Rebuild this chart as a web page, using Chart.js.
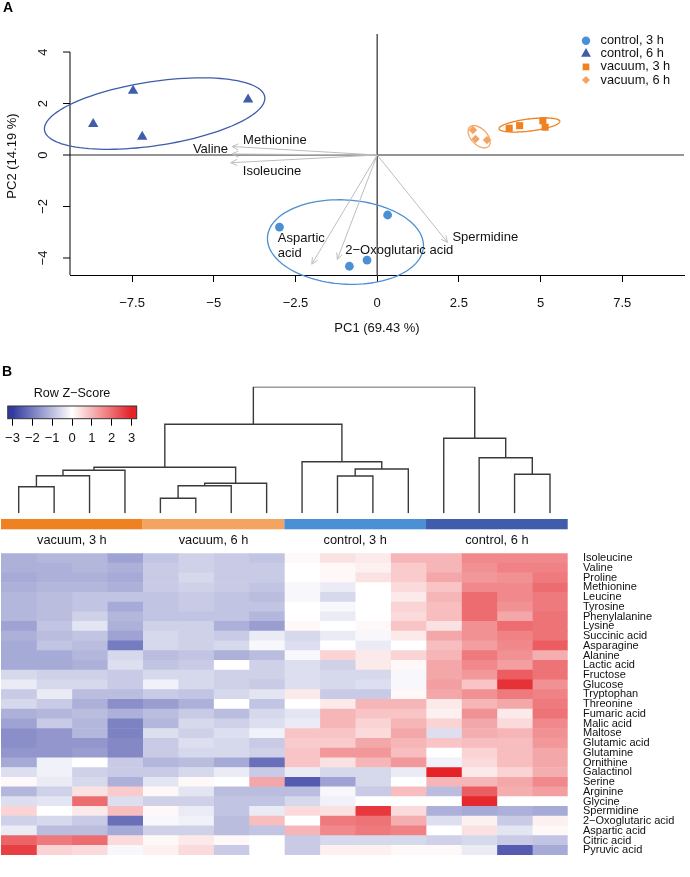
<!DOCTYPE html>
<html><head><meta charset="utf-8">
<script src="https://cdn.jsdelivr.net/npm/chart.js@4.4.1/dist/chart.umd.min.js"></script>
<style>
html,body{margin:0;padding:0;background:#fff;}
#wrap{position:relative;width:690px;height:877px;overflow:hidden;background:#fff;}
canvas{position:absolute;display:block;}
</style></head><body>
<div id="wrap">
<canvas id="pca" width="690" height="340" style="left:0;top:0;width:690px;height:340px"></canvas>
<canvas id="key" width="150" height="90" style="left:0;top:360px;width:150px;height:90px"></canvas>
<canvas id="dendro" width="690" height="135" style="left:0;top:380px;width:690px;height:135px"></canvas>
<canvas id="heat" width="690" height="362" style="left:0;top:515px;width:690px;height:362px"></canvas>
</div>
<script>
// ---------------- DATA: panel A (PCA) ----------------
const groups = ['control, 3 h', 'control, 6 h', 'vacuum, 3 h', 'vacuum, 6 h'];
const pc1Control3h = [-2.99, 0.32, -0.31, -0.85];
const pc2Control3h = [-2.80, -2.33, -4.08, -4.32];
const pc1Control6h = [-8.69, -7.47, -7.19, -3.95];
const pc2Control6h = [1.20, 2.50, 0.71, 2.16];
const pc1Vacuum3h = [4.04, 4.36, 5.07, 5.14];
const pc2Vacuum3h = [1.04, 1.14, 1.33, 1.08];
const pc1Vacuum6h = [2.93, 3.01, 3.36];
const pc2Vacuum6h = [0.97, 0.62, 0.58];
const xTickVals = [-7.5, -5, -2.5, 0, 2.5, 5, 7.5];
const yTickVals = [-4, -2, 0, 2, 4];
// confidence ellipses: centre and two conjugate semi-axes (data units)
const ellipseCX = [-0.97, -6.81, 4.66, 3.12];
const ellipseCY = [-3.38, 1.61, 1.165, 0.71];
const ellipseUX = [2.386, 3.37, 0.93, 0.29];
const ellipseUY = [-0.19, 0.645, 0.144, -0.371];
const ellipseVX = [-0.079, 0.143, 0.021, -0.172];
const ellipseVY = [-1.631, -1.23, -0.233, -0.22];
// loadings (arrows)
const loadingNames = ['Methionine', 'Valine', 'Isoleucine', 'Aspartic\nacid', '2\u2212Oxoglutaric acid', 'Spermidine'];
const loadingPC1 = [-4.44, -4.44, -4.48, -2.00, -1.22, 2.15];
const loadingPC2 = [0.33, 0.04, -0.30, -4.24, -4.05, -3.39];

// ---------------- DATA: panel B (heatmap) ----------------
const metabolites = ['Isoleucine','Valine','Proline','Methionine','Leucine','Tyrosine','Phenylalanine','Lysine',
 'Succinic acid','Asparagine','Alanine','Lactic acid','Fructose','Glucose','Tryptophan','Threonine','Fumaric acid',
 'Malic acid','Maltose','Glutamic acid','Glutamine','Ornithine','Galactinol','Serine','Arginine','Glycine',
 'Spermidine','2\u2212Oxoglutaric acid','Aspartic acid','Citric acid','Pyruvic acid'];
const heatGroups = ['vacuum, 3 h', 'vacuum, 6 h', 'control, 3 h', 'control, 6 h'];
const sampleGroup = [0,0,0,0, 1,1,1,1, 2,2,2,2, 3,3,3,3];
const cellWidth = 1;
const zScores = [
 [-1.2,-1.1,-1.1,-1.4,-0.9,-0.7,-0.8,-0.9, 0.1,0.4,0.3,1.0,1.0,1.6,1.6,1.6],
 [-1.2,-1.2,-1.1,-1.2,-0.8,-0.7,-0.8,-0.8, 0.0,0.1,0.2,0.7,1.0,1.5,1.7,1.7],
 [-1.3,-1.2,-1.2,-1.3,-0.8,-0.6,-0.8,-0.8, 0.0,0.1,0.4,0.7,1.2,1.4,1.5,1.8],
 [-1.2,-1.1,-1.1,-1.2,-0.8,-0.7,-0.8,-0.9,-0.1,-0.3,0.0,0.5,0.8,1.6,1.6,2.0],
 [-1.1,-1.0,-0.9,-0.9,-0.9,-0.8,-0.9,-1.0,-0.1,-0.6,0.0,0.3,1.0,2.0,1.6,1.8],
 [-1.1,-1.0,-0.9,-1.3,-0.9,-0.8,-0.9,-0.9, 0.0,-0.1,0.0,0.6,0.9,2.0,1.5,1.8],
 [-1.1,-1.0,-0.7,-1.1,-0.9,-0.9,-0.9,-1.1, 0.0,-0.3,0.0,0.5,0.9,2.0,1.2,1.9],
 [-1.4,-0.9,-0.4,-1.2,-0.7,-0.7,-1.2,-1.5, 0.1,0.0,0.1,0.8,0.4,1.5,2.0,1.9],
 [-1.2,-1.0,-0.9,-1.4,-0.6,-0.7,-0.8,-0.3,-0.6,-0.3,-0.1,0.3,1.2,1.5,1.7,1.9],
 [-1.3,-0.9,-1.0,-2.0,-0.6,-0.7,-0.6,-0.1,-0.5,0.0,-0.3,0.0,0.9,1.3,1.6,2.2],
 [-1.3,-1.3,-1.1,-0.6,-1.0,-0.9,-1.2,-1.0,-0.1,0.6,0.3,0.6,1.0,1.8,1.5,1.1],
 [-1.3,-1.3,-1.2,-0.5,-0.9,-0.8,0.0,-0.7,-0.5,-0.7,0.3,0.1,1.2,1.6,1.3,1.9],
 [-0.6,-0.7,-0.7,-0.8,-0.6,-0.6,-0.7,-0.7,-0.5,-0.6,-0.6,-0.1,1.2,1.4,2.2,1.9],
 [-0.3,-0.6,-0.6,-0.8,-0.2,-0.6,-0.7,-0.8,-0.5,-0.6,-0.5,-0.1,1.3,0.8,2.8,1.5],
 [-0.8,-0.3,-1.0,-1.0,-0.8,-0.9,-0.6,-0.4, 0.3,-0.8,-0.8,0.1,1.2,1.5,1.8,1.7],
 [-0.6,-0.8,-1.2,-1.7,-1.5,-1.2,0.0,-0.9, 0.0,0.3,1.0,1.0,0.3,1.0,1.2,1.8],
 [-1.2,-1.1,-1.0,-1.2,-1.0,-0.8,-1.0,-0.6,-0.4,1.0,0.8,0.8,0.2,1.5,0.3,1.9],
 [-1.4,-0.8,-1.1,-1.9,-1.1,-0.6,-0.7,-0.5,-0.3,1.0,0.6,1.0,0.6,1.2,0.5,1.6],
 [-1.7,-1.6,-1.1,-1.9,-0.5,-0.7,-0.5,-0.2, 0.8,0.8,0.5,1.2,-0.5,1.1,1.0,1.5],
 [-1.7,-1.6,-1.6,-1.8,-0.8,-0.5,-0.6,-0.8, 0.7,0.7,1.2,1.0,0.8,0.9,0.9,1.4],
 [-1.6,-1.6,-1.5,-1.8,-0.8,-0.6,-0.6,-0.7, 0.8,1.4,1.4,0.9,0.0,0.6,0.9,1.2],
 [-1.3,-0.2,0.0,-0.8,-1.1,-1.0,-1.3,-2.2, 0.8,0.4,1.0,1.4,-0.2,0.5,0.9,1.2],
 [-0.5,-0.2,-0.7,-0.8,-0.8,-0.6,-0.3,-0.8,-0.3,-0.6,-0.6,-0.3,3.0,0.3,0.6,1.1],
 [0.1,-0.3,-0.6,-1.2,-0.4,0.1,0.0,1.2,-2.5,-1.4,-0.6,0.0,1.0,1.0,1.2,1.6],
 [-1.1,-0.7,0.4,0.7,0.1,-0.4,-1.0,-1.0,-1.0,-0.1,-0.8,0.9,-1.0,2.2,1.1,1.3],
 [-0.5,-0.4,2.0,-0.5,-0.7,-0.7,-0.9,-0.9,-0.6,-0.2,0.0,0.0,0.0,2.9,0.0,0.0],
 [0.6,0.0,0.3,0.9,0.1,-0.3,-0.9,-0.3, 0.5,0.4,2.7,0.5,-1.2,-1.3,-1.2,-1.3],
 [-0.7,-0.6,-0.8,-2.2,-0.1,-0.2,-1.0,0.9, 0.0,1.8,1.9,1.1,-0.5,0.2,-0.8,0.2],
 [-0.3,-1.0,-1.0,-1.3,-0.7,-0.7,-1.0,-0.9, 1.0,1.6,1.8,1.7,0.0,0.4,-0.4,0.1],
 [2.1,1.8,2.0,0.5,0.1,0.3,0.1,0.0,-0.8,-0.6,-0.6,-0.6,-0.7,-0.6,-0.8,-0.9],
 [2.6,0.6,0.5,-0.1,0.2,0.5,-0.8,0.0,-0.8,0.2,0.2,0.1,0.1,-0.3,-2.5,-1.3]
];
const keyTicks = [-3, -2, -1, 0, 1, 2, 3];
// dendrogram (columns): nodes 0-15 leaves, node 16+k = merge k
const mergeA = [4, 0, 16, 18, 9, 17, 14, 21, 20, 23, 8, 13, 12, 25, 29];
const mergeB = [5, 1, 6, 7, 10, 2, 15, 3, 11, 19, 24, 22, 27, 26, 28];
const mergeHeight = [15.0, 26.6, 27.6, 30.0, 37.3, 37.6, 39.0, 43.0, 44.3, 46.0, 51.6, 55.6, 75.0, 89.0, 126.6];

// ---------------- STYLE ----------------
const FONT = "'Liberation Sans', Arial, Helvetica, sans-serif";
const groupColors = { 'control, 3 h': '#4B8FD4', 'control, 6 h': '#3F5DAA', 'vacuum, 3 h': '#EF8120', 'vacuum, 6 h': '#F3A462' };
const groupShapes = { 'control, 3 h': 'circle', 'control, 6 h': 'triangle', 'vacuum, 3 h': 'rect', 'vacuum, 6 h': 'rectRot' };
const groupRadius = { 'control, 3 h': 4.4, 'control, 6 h': 6.0, 'vacuum, 3 h': 5.0, 'vacuum, 6 h': 4.2 };
const LOW = [50, 58, 160], HIGH = [228, 34, 40];
function zColor(v) {
  const t = Math.max(-1, Math.min(1, v / 3));
  const end = t < 0 ? LOW : HIGH, f = Math.abs(t);
  const c = end.map(e => Math.round(255 + (e - 255) * f));
  return 'rgb(' + c.join(',') + ')';
}
function fmt(v) { return v < 0 ? '\u2212' + Math.abs(v) : String(v); }
function shapePath(ctx, style, x, y, r) {
  ctx.beginPath();
  if (style === 'circle') ctx.arc(x, y, r, 0, Math.PI * 2);
  else if (style === 'triangle') {
    for (let k = 0; k < 3; k++) { const a = k * 2 * Math.PI / 3; const px = x + Math.sin(a) * r, py = y - Math.cos(a) * r; k ? ctx.lineTo(px, py) : ctx.moveTo(px, py); }
    ctx.closePath();
  } else if (style === 'rect') { const s = r * Math.SQRT1_2; ctx.rect(x - s, y - s, 2 * s, 2 * s); }
  else { ctx.moveTo(x, y - r); ctx.lineTo(x + r, y); ctx.lineTo(x, y + r); ctx.lineTo(x - r, y); ctx.closePath(); }
}

const pcaSeries = [
  [pc1Control3h, pc2Control3h], [pc1Control6h, pc2Control6h], [pc1Vacuum3h, pc2Vacuum3h], [pc1Vacuum6h, pc2Vacuum6h]
];
// label placement (pixel offsets from arrow tip) and alignment
const loadLabelLayout = [
  { dx: 11, dy: -6, align: 'left' }, { dx: -4, dy: -5, align: 'right' }, { dx: 12, dy: 9, align: 'left' },
  { dx: -34, dy: -26, align: 'left' }, { dx: 8, dy: -8.6, align: 'left' }, { dx: 5, dy: -4.6, align: 'left' }
];

const pcaPlugin = {
  id: 'pcaExtras',
  beforeDatasetsDraw(chart) {
    const { ctx, chartArea: a, scales: { x, y } } = chart;
    ctx.save();
    const ln = (x1, y1, x2, y2) => { ctx.beginPath(); ctx.moveTo(x1, y1); ctx.lineTo(x2, y2); ctx.stroke(); };
    // zero lines
    ctx.strokeStyle = '#2a2a2a'; ctx.lineWidth = 1.2;
    const x0 = x.getPixelForValue(0), y0 = y.getPixelForValue(0);
    ln(a.left, y0, a.right, y0); ln(x0, a.top, x0, a.bottom);
    // y axis
    ctx.strokeStyle = '#000'; ctx.lineWidth = 1;
    ln(a.left, y.getPixelForValue(yTickVals[yTickVals.length - 1]), a.left, a.bottom);
    ctx.fillStyle = '#111'; ctx.font = '13px ' + FONT; ctx.textAlign = 'center'; ctx.textBaseline = 'middle';
    yTickVals.forEach(v => {
      const p = y.getPixelForValue(v);
      ln(a.left - 7, p, a.left, p);
      ctx.save(); ctx.translate(a.left - 27, p); ctx.rotate(-Math.PI / 2); ctx.fillText(fmt(v), 0, 0); ctx.restore();
    });
    ctx.save(); ctx.translate(12, y.getPixelForValue(0) + 1); ctx.rotate(-Math.PI / 2); ctx.fillText('PC2 (14.19 %)', 0, 0); ctx.restore();
    // ellipses
    groups.forEach((g, i) => {
      ctx.strokeStyle = groupColors[g]; ctx.lineWidth = 1.3; ctx.beginPath();
      for (let k = 0; k <= 120; k++) {
        const t = k / 120 * Math.PI * 2;
        const dx = ellipseCX[i] + ellipseUX[i] * Math.cos(t) + ellipseVX[i] * Math.sin(t);
        const dy = ellipseCY[i] + ellipseUY[i] * Math.cos(t) + ellipseVY[i] * Math.sin(t);
        const px = x.getPixelForValue(dx), py = y.getPixelForValue(dy);
        k ? ctx.lineTo(px, py) : ctx.moveTo(px, py);
      }
      ctx.closePath(); ctx.stroke();
    });
    // loading arrows
    ctx.strokeStyle = '#bdbdbd'; ctx.lineWidth = 1;
    loadingNames.forEach((n, i) => {
      const tx = x.getPixelForValue(loadingPC1[i]), ty = y.getPixelForValue(loadingPC2[i]);
      ln(x0, y0, tx, ty);
      const ang = Math.atan2(ty - y0, tx - x0), L = 7, sp = 0.45;
      ln(tx, ty, tx - L * Math.cos(ang - sp), ty - L * Math.sin(ang - sp));
      ln(tx, ty, tx - L * Math.cos(ang + sp), ty - L * Math.sin(ang + sp));
    });
    ctx.fillStyle = '#111'; ctx.textBaseline = 'middle'; ctx.font = '13px ' + FONT;
    loadingNames.forEach((n, i) => {
      const tx = x.getPixelForValue(loadingPC1[i]), ty = y.getPixelForValue(loadingPC2[i]);
      const L = loadLabelLayout[i]; ctx.textAlign = L.align;
      n.split('\n').forEach((s, j) => ctx.fillText(s, tx + L.dx, ty + L.dy + j * 15));
    });
    ctx.restore();
  },
  afterDatasetsDraw(chart) {
    const { ctx } = chart;
    ctx.save();
    // legend
    ctx.font = '12.8px ' + FONT; ctx.textAlign = 'left'; ctx.textBaseline = 'middle';
    groups.forEach((g, i) => {
      const yy = 40.7 + i * 13.1;
      ctx.fillStyle = groupColors[g]; shapePath(ctx, groupShapes[g], 586, yy, groupRadius[g] * 0.95); ctx.fill();
      ctx.fillStyle = '#111'; ctx.fillText(g, 600.5, yy);
    });
    // panel letter
    ctx.font = 'bold 14px ' + FONT; ctx.fillStyle = '#000'; ctx.textBaseline = 'middle';
    ctx.fillText('A', 3, 8);
    ctx.restore();
  }
};

new Chart(document.getElementById('pca'), {
  type: 'scatter',
  data: {
    datasets: groups.map((g, i) => ({
      label: g,
      data: pcaSeries[i][0].map((v, j) => ({ x: v, y: pcaSeries[i][1][j] })),
      pointStyle: groupShapes[g], pointRadius: groupRadius[g], pointHoverRadius: groupRadius[g],
      backgroundColor: groupColors[g], borderColor: groupColors[g], borderWidth: 0
    }))
  },
  options: {
    responsive: false, animation: false, devicePixelRatio: 1,
    layout: { padding: { left: 70, right: 2, top: 34, bottom: 0 } },
    plugins: { legend: { display: false }, tooltip: { enabled: false } },
    scales: {
      x: {
        type: 'linear', min: -9.40, max: 9.39,
        afterBuildTicks: s => { s.ticks = xTickVals.map(v => ({ value: v })); },
        afterFit: s => { s.height = 65; },
        grid: { drawOnChartArea: false, drawTicks: true, tickLength: 7, color: '#000', lineWidth: 1 },
        border: { display: true, color: '#000', width: 1 },
        ticks: { padding: 14, autoSkip: false, maxRotation: 0, color: '#111', font: { family: FONT, size: 13 }, callback: v => fmt(v) },
        title: { display: true, text: 'PC1 (69.43 %)', color: '#111', font: { family: FONT, size: 13 }, padding: { top: 0, bottom: 4 } }
      },
      y: { type: 'linear', min: -4.66, max: 4.70, display: false }
    }
  },
  plugins: [pcaPlugin]
});

// ---------------- colour key ----------------
const keyPlugin = {
  id: 'keyExtras',
  beforeDatasetsDraw(chart) {
    const { ctx, chartArea: a, scales: { x } } = chart;
    ctx.save();
    const g = ctx.createLinearGradient(a.left, 0, a.right, 0);
    const pos = v => Math.max(0, Math.min(1, (x.getPixelForValue(v) - a.left) / (a.right - a.left)));
    g.addColorStop(0, zColor(-3)); g.addColorStop(pos(-3), zColor(-3));
    for (let v = -3; v <= 3; v += 0.5) g.addColorStop(pos(v), zColor(v));
    g.addColorStop(1, zColor(3));
    ctx.fillStyle = g; ctx.fillRect(a.left, a.top, a.right - a.left, a.bottom - a.top);
    ctx.strokeStyle = '#333'; ctx.lineWidth = 1; ctx.strokeRect(a.left, a.top, a.right - a.left, a.bottom - a.top);
    ctx.fillStyle = '#111'; ctx.font = '12.6px ' + FONT; ctx.textAlign = 'center'; ctx.textBaseline = 'middle';
    ctx.fillText('Row Z\u2212Score', x.getPixelForValue(0), 34);
    ctx.font = 'bold 14px ' + FONT; ctx.textAlign = 'left'; ctx.fillStyle = '#000';
    ctx.fillText('B', 2, 12);
    ctx.restore();
  }
};
new Chart(document.getElementById('key'), {
  type: 'scatter',
  data: { datasets: [] },
  options: {
    responsive: false, animation: false, devicePixelRatio: 1,
    layout: { padding: { left: 2.7, right: 13.3, top: 46, bottom: 0 } },
    plugins: { legend: { display: false }, tooltip: { enabled: false } },
    scales: {
      x: {
        type: 'linear', min: -3.24, max: 3.26,
        afterBuildTicks: s => { s.ticks = keyTicks.map(v => ({ value: v })); },
        afterFit: s => { s.height = 31.3; },
        grid: { drawOnChartArea: false, drawTicks: true, tickLength: 7, color: '#000', lineWidth: 1 },
        border: { display: false },
        ticks: { padding: 5, autoSkip: false, maxRotation: 0, color: '#111', font: { family: FONT, size: 13 }, callback: v => fmt(v) }
      },
      y: { type: 'linear', min: 0, max: 1, display: false }
    }
  },
  plugins: [keyPlugin]
});

// ---------------- dendrogram ----------------
const nodeX = [], nodeH = [];
for (let i = 0; i < sampleGroup.length; i++) { nodeX.push(i); nodeH.push(0); }
const dendroSets = mergeA.map((a, k) => {
  const b = mergeB[k], h = mergeHeight[k];
  nodeX.push((nodeX[a] + nodeX[b]) / 2); nodeH.push(h);
  return {
    data: [{ x: nodeX[a], y: nodeH[a] }, { x: nodeX[a], y: h }, { x: nodeX[b], y: h }, { x: nodeX[b], y: nodeH[b] }],
    showLine: true, borderColor: '#3a3a3a', borderWidth: 1.4, pointRadius: 0, tension: 0, fill: false
  };
});
new Chart(document.getElementById('dendro'), {
  type: 'scatter',
  data: { datasets: dendroSets },
  options: {
    responsive: false, animation: false, devicePixelRatio: 1,
    layout: { padding: { left: 1, right: 122.3, top: 6.7, bottom: 1.7 } },
    plugins: { legend: { display: false }, tooltip: { enabled: false } },
    scales: {
      x: { type: 'linear', min: -0.5, max: 15.5, display: false },
      y: { type: 'linear', min: 0, max: 126.6, display: false }
    }
  }
});

// ---------------- heatmap ----------------
const heatPlugin = {
  id: 'heatExtras',
  afterDraw(chart) {
    const { ctx, scales: { x } } = chart;
    ctx.save();
    ctx.font = '12.8px ' + FONT; ctx.textAlign = 'center'; ctx.textBaseline = 'middle';
    heatGroups.forEach((g, gi) => {
      const cols = sampleGroup.map((s, j) => s === gi ? j : -1).filter(j => j >= 0);
      const x1 = x.getPixelForValue(cols[0]), x2 = x.getPixelForValue(cols[cols.length - 1] + cellWidth);
      ctx.fillStyle = groupColors[g]; ctx.fillRect(x1, 4, x2 - x1, 10.3);
      ctx.fillStyle = '#111'; ctx.fillText(g, (x1 + x2) / 2, 25.7);
    });
    ctx.restore();
  }
};
new Chart(document.getElementById('heat'), {
  type: 'bar',
  data: {
    labels: metabolites,
    datasets: sampleGroup.map((s, j) => ({
      label: 'sample ' + (j + 1),
      data: metabolites.map(() => cellWidth),
      backgroundColor: zScores.map(row => zColor(row[j])),
      borderWidth: 0, barPercentage: 1, categoryPercentage: 1
    }))
  },
  options: {
    indexAxis: 'y', responsive: false, animation: false, devicePixelRatio: 1,
    layout: { padding: { left: 1, right: 0, top: 38.3, bottom: 3.7 } },
    plugins: { legend: { display: false }, tooltip: { enabled: false } },
    scales: {
      x: { stacked: true, min: 0, max: 16, display: false },
      y: {
        stacked: true, position: 'right',
        grid: { display: false, drawTicks: false }, border: { display: false },
        afterFit: s => { s.width = 122.3; },
        ticks: { autoSkip: false, padding: 15.3, color: '#111', font: { family: FONT, size: 11 } }
      }
    }
  },
  plugins: [heatPlugin]
});
</script>
</body></html>
